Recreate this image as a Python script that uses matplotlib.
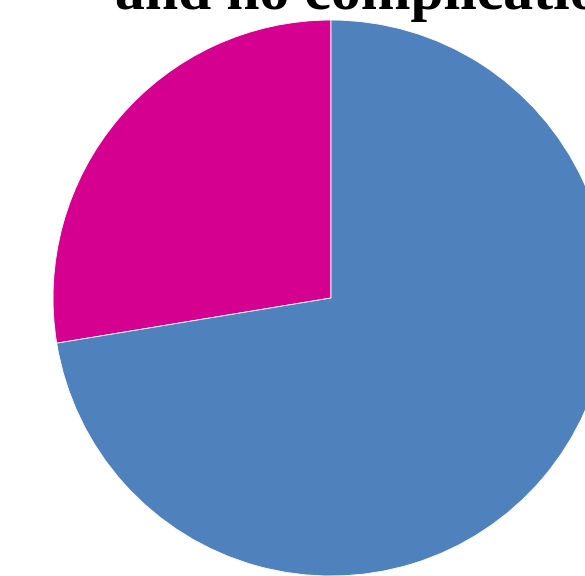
import matplotlib
matplotlib.use('Agg')
import matplotlib.pyplot as plt

labels = ['Complications', 'No complications']
values = [27.6, 72.4]
colors = ['#D5008F', '#4F81BD']
title_line = 'and no complications'


def main():
    fig = plt.figure(figsize=(5.85, 5.76), dpi=100)
    ax = fig.add_axes([0, 0, 1, 1])
    ax.pie(values, colors=colors, startangle=90, counterclock=True,
           radius=1.0, center=(0, 0),
           wedgeprops=dict(edgecolor='white', linewidth=0.6))
    ax.set_xlim(-331 / 278, (585 - 331) / 278)
    ax.set_ylim((298 - 576) / 278, 298 / 278)
    ax.set_aspect('equal')
    ax.axis('off')

    # only the last line of the title is visible, cut by the top edge
    ax.text((115 - 331) / 278, (298 - 9) / 278, title_line,
            ha='left', va='baseline', fontsize=43, fontweight='bold',
            family='Liberation Serif', clip_on=False)

    fig.savefig('out.png', dpi=100)


if __name__ == '__main__':
    main()
